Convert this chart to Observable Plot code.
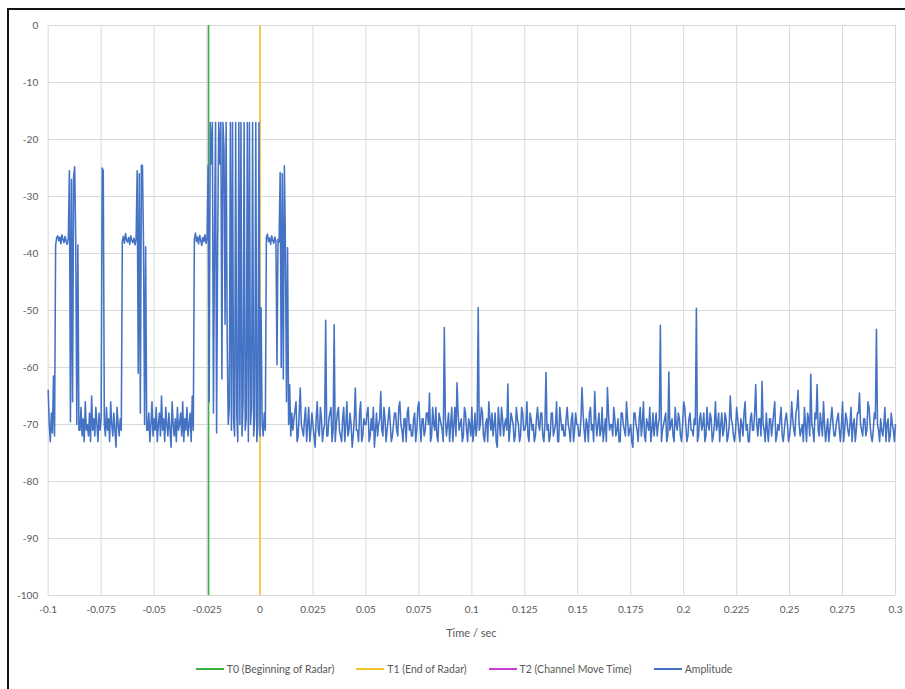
<!DOCTYPE html>
<html>
<head>
<meta charset="utf-8">
<script src="https://cdn.jsdelivr.net/npm/d3@7"></script>
<script src="https://cdn.jsdelivr.net/npm/@observablehq/plot@0.6"></script>
<style>
  html, body { margin: 0; padding: 0; background: #fff; }
  body { width: 905px; height: 689px; position: relative; overflow: hidden; font-family: Lato, "Open Sans", sans-serif; color: #595959; }
  #frame { position: absolute; left: 7px; top: 8px; width: 920px; height: 700px; border-left: 2.5px solid #111; border-top: 2.5px solid #111; box-sizing: border-box; }
  #chart { position: absolute; left: 0; top: 0; }
  #xtitle { position: absolute; left: 47.7px; width: 847.3px; top: 626px; height: 14px; line-height: 14px; text-align: center; font-size: 11px; }
  #legend { position: absolute; left: 0; width: 928px; top: 662px; height: 14px; line-height: 14px; display: flex; justify-content: center; gap: 22px; font-size: 10.5px; }
  #legend .item { display: flex; align-items: center; white-space: nowrap; }
  #legend .sw { display: inline-block; width: 28px; height: 1.6px; margin-right: 3px; }
</style>
</head>
<body>
<div id="frame"></div>
<div id="chart"></div>
<div id="xtitle"></div>
<div id="legend"></div>
<script>
// ---------- data ----------
const timeTicks = [-0.1, -0.075, -0.05, -0.025, 0, 0.025, 0.05, 0.075, 0.1, 0.125, 0.15, 0.175, 0.2, 0.225, 0.25, 0.275, 0.3];
const ampTicks = [0, -10, -20, -30, -40, -50, -60, -70, -80, -90, -100];
const xTitle = "Time / sec";

const seriesNames = ["T0 (Beginning of Radar)", "T1 (End of Radar)", "T2 (Channel Move Time)", "Amplitude"];
const markerNames = ["T0 (Beginning of Radar)", "T1 (End of Radar)"];
const markerTimes = [-0.0243, 0];

// radar burst section: samples every 0.5 ms from -0.1 s
const burstStart = -0.1;
const burstStep = 0.0005;
const burstAmp = [
  -64, -70, -73, -68, -71.5, -61.5, -72,
  -38.6, -37.2, -36.9, -37.8, -37.1, -38.3, -36.7, -37.6, -38.1, -37, -37.9, -38.4, -37.3,
  -25.5, -69.5, -27, -66, -26.5, -24.8, -38, -70, -38.5, -71,
  -71, -67, -72, -69, -73, -66, -71, -70, -72, -68,
  -73, -65, -71, -69, -72, -67, -70, -73, -68, -71,
  -69, -25, -25.5, -70, -72, -67, -71, -69, -73, -66,
  -70, -72, -68, -71, -74, -67, -70, -72, -69, -71,
  -37.8, -37, -38.2, -36.5, -37.6, -38, -37.2, -38.4, -36.9, -37.7, -38.1, -37.3, -38.5, -37.5,
  -25.5, -61, -26, -68, -24.5, -24.6, -38.5, -70, -38.8, -71,
  -71, -68, -73, -70, -66, -72, -69, -71, -67, -73,
  -70, -68, -72, -65, -71, -69, -73, -67, -70, -72,
  -68, -71, -74, -66, -70, -72, -69, -73, -67, -71,
  -70, -68, -72, -66, -73, -69, -71, -67, -72, -70,
  -68, -73, -65, -71,
  -37.5, -36.4, -37.9, -37.1, -38.3, -36.8, -37.6, -38.6, -37.2, -37.9, -36.7, -38.2, -37.4,
  -24.5, -66, -17, -24.3, -17, -68, -38, -17, -71.5, -38,
  -17, -24.3, -17, -62, -17, -21.7, -52.4, -17, -55, -70,
  -67, -17, -71, -17, -69, -72, -17, -68, -73, -17,
  -70, -17, -72, -66, -17, -71, -69, -17, -73, -17,
  -70, -67, -17, -72, -69, -17, -73, -70, -17, -72,
  -49.5, -70, -72, -68, -71,
  -37.2, -36.6, -37.9, -37.3, -38.4, -36.9, -37.7, -38.2, -37.1, -37.8, -59.5, -37.5, -38,
  -25.8, -60, -26, -62, -24.6, -39, -66, -39, -70, -63, -72, -68, -71, -69
];

// quiet section: samples every 1 ms from 0.017 s
const tailStart = 0.017;
const tailStep = 0.001;
const tailAmp = [
  -66, -72, -63.6, -71, -69, -73, -67, -71, -70, -74, -66, -72, -69, -71, -51.7, -72, -68, -73, -52.5, -70,
  -67, -72, -69, -73, -66, -71, -70, -72, -63.6, -71, -68, -73, -69, -70, -67, -72, -71, -74, -68, -70,
  -64.2, -72, -69, -71, -67, -73, -70, -68, -72, -66, -71, -69, -73, -67, -70, -72, -68, -71, -66, -73,
  -69, -71, -68, -64.5, -72, -70, -67, -73, -69, -71, -53, -72, -68, -70, -73, -67, -62.7, -71, -69, -72,
  -68, -73, -70, -67, -71, -72, -49.5, -70, -68, -73, -69, -66, -71, -72, -68, -74, -70, -67, -72, -69,
  -62.9, -71, -69, -73, -67, -70, -72, -68, -71, -66, -73, -69, -70, -72, -67, -71, -68, -73, -60.9, -70,
  -72, -68, -71, -66, -73, -69, -70, -72, -67, -71, -69, -73, -68, -70, -72, -63.5, -71, -69, -73, -67,
  -70, -64.2, -72, -68, -71, -73, -69, -63.5, -71, -70, -67, -72, -69, -73, -68, -71, -66, -72, -70, -74,
  -68, -71, -69, -72, -66, -73, -70, -67, -71, -72, -68, -70, -52.6, -71, -69, -73, -60.8, -70, -72, -67,
  -71, -69, -73, -66, -70, -72, -68, -71, -69, -49.6, -72, -68, -70, -73, -67, -71, -69, -72, -66, -70,
  -73, -68, -71, -69, -72, -65, -70, -73, -67, -71, -69, -72, -66, -70, -73, -68, -71, -63, -72, -69,
  -62.4, -71, -68, -73, -69, -70, -66, -72, -71, -67, -73, -69, -70, -72, -66, -71, -68, -64, -72, -70,
  -67, -73, -69, -61.2, -71, -68, -63, -72, -70, -66, -73, -69, -71, -67, -72, -70, -68, -73, -66, -71,
  -69, -72, -67, -70, -73, -68, -64.5, -71, -69, -72, -66, -70, -73, -68, -53.3, -71, -69, -72, -67, -70,
  -73, -68, -71, -70
];

// quiet section, in-between samples: every 1 ms from 0.0175 s
const tailMidStart = 0.0175;
const tailMidStep = 0.001;
const tailMidAmp = [
  -73, -68, -70, -72, -67, -70, -73, -68, -72, -69, -71, -67, -73, -70, -72, -69, -67, -71, -73, -68,
  -71, -73, -67, -70, -72, -68, -74, -69, -71, -73, -66, -72, -70, -68, -73, -69, -67, -71, -72, -69,
  -71, -67, -73, -69, -70, -72, -68, -71, -67, -70, -73, -69, -68, -71, -72, -69, -73, -67, -70, -69,
  -72, -68, -70, -73, -67, -71, -72, -68, -70, -73, -69, -70, -73, -67, -70, -72, -68, -70, -73, -67,
  -71, -69, -72, -73, -68, -70, -71, -67, -72, -70, -73, -69, -68, -70, -73, -67, -72, -69, -70, -71,
  -73, -68, -70, -72, -69, -73, -67, -71, -70, -72, -68, -71, -73, -69, -70, -68, -72, -70, -71, -73,
  -68, -72, -70, -73, -67, -71, -72, -69, -70, -73, -68, -71, -70, -72, -69, -68, -73, -70, -68, -71,
  -73, -69, -70, -72, -67, -71, -73, -68, -70, -72, -69, -71, -73, -68, -70, -72, -69, -71, -73, -68,
  -70, -73, -67, -70, -72, -69, -71, -73, -68, -70, -72, -69, -73, -70, -68, -72, -71, -69, -73, -70,
  -68, -72, -70, -67, -73, -69, -71, -72, -70, -73, -69, -71, -68, -72, -70, -68, -73, -70, -71, -68,
  -70, -72, -68, -73, -70, -69, -72, -71, -69, -73, -70, -68, -71, -73, -69, -71, -68, -70, -69, -72,
  -70, -73, -71, -69, -72, -68, -73, -70, -69, -72, -71, -68, -73, -70, -69, -72, -67, -70, -71, -73,
  -70, -68, -72, -70, -73, -69, -71, -68, -72, -70, -71, -73, -69, -70, -72, -69, -71, -70, -73, -68,
  -71, -70, -73, -69, -71, -68, -70, -72, -69, -71, -67, -72, -71, -69, -70, -73, -71, -70, -73, -69,
  -72, -70, -73
];

// ---------- styles ----------
const palette = ["#3cb043", "#f2c230", "#c83ccf", "#4472c4"];

// ---------- build tables ----------
const amplitude = [
  ...burstAmp.map((v, i) => ({ t: burstStart + i * burstStep, v })),
  ...tailAmp.map((v, i) => ({ t: tailStart + i * tailStep, v })),
  ...tailMidAmp.map((v, i) => ({ t: tailMidStart + i * tailMidStep, v }))
].sort((a, b) => a.t - b.t);
const markers = markerNames.map((name, i) => ({ name, t: markerTimes[i], color: palette[i] }));

const fmt = d => String(d);

const chart = Plot.plot({
  width: 905,
  height: 620,
  marginLeft: 47.7,
  marginRight: 10,
  marginTop: 25,
  marginBottom: 25,
  style: { fontFamily: "Lato, 'Open Sans', sans-serif", fontSize: "10px", color: "#595959", background: "transparent", overflow: "visible" },
  x: { type: "linear", domain: [-0.1, 0.3], ticks: timeTicks, tickFormat: fmt, tickSize: 0, tickPadding: 10, label: null },
  y: { type: "linear", domain: [-100, 0], ticks: ampTicks, tickFormat: fmt, tickSize: 0, tickPadding: 10, label: null },
  marks: [
    Plot.ruleX(timeTicks, { x: d => d, stroke: "#d9d9d9", strokeWidth: 1 }),
    Plot.ruleY(ampTicks, { y: d => d, stroke: "#d9d9d9", strokeWidth: 1 }),
    Plot.ruleX(markers, { x: "t", stroke: "color", strokeWidth: 1.6 }),
    Plot.line(amplitude, { x: "t", y: "v", stroke: palette[3], strokeWidth: 1.55 })
  ]
});
document.getElementById("chart").appendChild(chart);

document.getElementById("xtitle").textContent = xTitle;

const legend = document.getElementById("legend");
seriesNames.forEach((name, i) => {
  const item = document.createElement("span");
  item.className = "item";
  const sw = document.createElement("span");
  sw.className = "sw";
  sw.style.background = palette[i];
  item.appendChild(sw);
  item.appendChild(document.createTextNode(name));
  legend.appendChild(item);
});
</script>
</body>
</html>
